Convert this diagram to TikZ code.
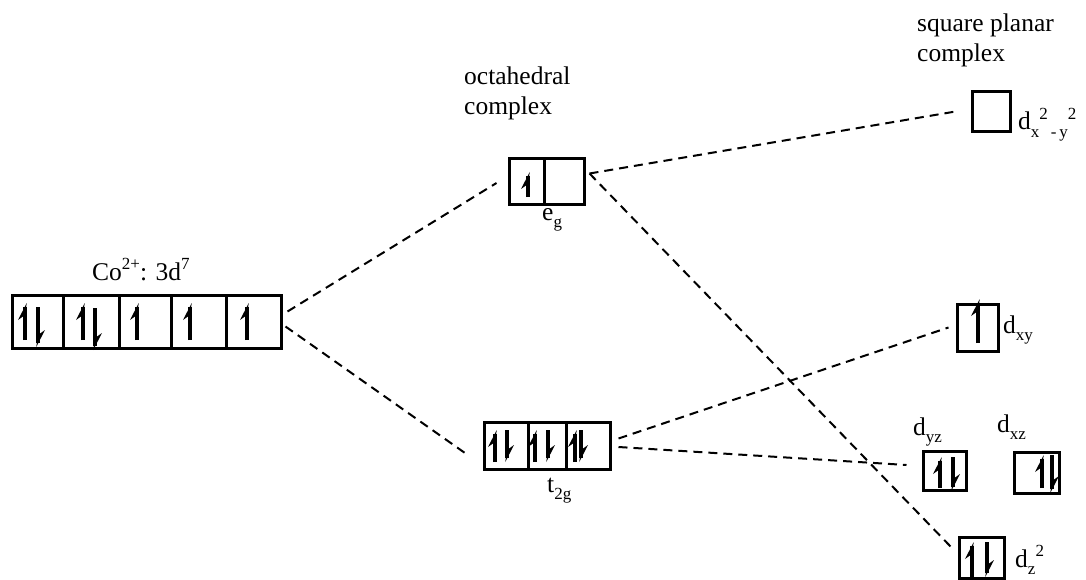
\documentclass[tikz,border=0pt]{standalone}
\usepackage{fontspec}
\setmainfont{Liberation Serif}
\usetikzlibrary{calc,positioning}

\tikzstyle{orb} = [draw, line width=3pt, inner sep=0pt]
\tikzstyle{lbl} = [inner sep=0pt, anchor=base west, font=\fontsize{25.5}{30}\selectfont]
\tikzstyle{split} = [dashed, line width=2pt, dash pattern=on 9pt off 6pt]
\tikzstyle{spin} = [line width=3.5pt]

% indices in the labels
\newcommand{\spt}[1]{\raisebox{0.42em}{\fontsize{17}{17}\selectfont #1}}
\newcommand{\sbt}[1]{\raisebox{-0.3em}{\fontsize{17}{17}\selectfont #1}}

% half-headed arrows for the electrons: x, top, bottom
\newcommand{\eup}[3]{\draw[spin] (#1,#3) -- (#1,#2+4);
  \fill (#1+1.75,#2) -- (#1-7,#2+17) -- (#1,#2+12) -- cycle;}
\newcommand{\edn}[3]{\draw[spin] (#1,#2) -- (#1,#3-4);
  \fill (#1-1.75,#3) -- (#1+7,#3-17) -- (#1,#3-12) -- cycle;}

\begin{document}
\begin{tikzpicture}[x=1pt,y=-1pt]
\useasboundingbox (0,0) rectangle (1086,580);

% free ion
\node[orb, minimum width=51pt, minimum height=53pt] (co1) at (37.5,321.5) {};
\node[orb, minimum width=56pt, minimum height=53pt] (co2) at (91,321.5) {};
\node[orb, minimum width=52pt, minimum height=53pt] (co3) at (145,321.5) {};
\node[orb, minimum width=55pt, minimum height=53pt] (co4) at (198.5,321.5) {};
\node[orb, minimum width=55pt, minimum height=53pt] (co5) at (253.5,321.5) {};
\node[lbl] (colbl) at (92,280) {Co\spt{2+}: 3d\spt{7}};
\eup{25}{303}{340} \edn{38}{307}{347}
\eup{83}{303}{340} \edn{95}{308}{350}
\eup{137}{303}{340}
\eup{190}{303}{340}
\eup{247}{303}{340}

% octahedral field
\node[lbl, align=left] (oct) at (464,115) {octahedral\\complex};
\node[orb, minimum width=35pt, minimum height=45pt] (eg1) at (526.5,181.5) {};
\node[orb, minimum width=40pt, minimum height=45pt] (eg2) at (564,181.5) {};
\node[lbl] (eglbl) at (542,220) {e\sbt{g}};
\eup{528}{172}{197}

\node[orb, minimum width=44pt, minimum height=47pt] (t1) at (506,445.5) {};
\node[orb, minimum width=38pt, minimum height=47pt] (t2) at (547,445.5) {};
\node[orb, minimum width=44pt, minimum height=47pt] (t3) at (588,445.5) {};
\node[lbl] (t2glbl) at (547,492) {t\sbt{2g}};
\eup{495}{430}{462} \edn{507}{430}{462}
\eup{535}{430}{462} \edn{548}{430}{462}
\eup{575}{430}{462} \edn{581}{430}{462}

% square planar field
\node[lbl, align=left] (sqp) at (917,62) {square planar\\complex};
\node[orb, minimum width=38pt, minimum height=40pt] (dx2) at (991,112) {};
\node[lbl] at (1018,130) {d\sbt{x}\spt{2}\sbt{\,-\,y}\spt{2}};

\node[orb, minimum width=41pt, minimum height=47pt] (dxy) at (977.5,327.5) {};
\node[lbl] at (1003,333) {d\sbt{xy}};
\eup{978}{299}{343}

\node[orb, minimum width=43pt, minimum height=39pt] (dyz) at (944.5,470.5) {};
\node[lbl] at (913,435) {d\sbt{yz}};
\eup{940}{457}{488} \edn{953}{457}{491}

\node[orb, minimum width=45pt, minimum height=41pt] (dxz) at (1036.5,472.5) {};
\node[lbl] at (997,432) {d\sbt{xz}};
\eup{1042}{455}{488} \edn{1052}{455}{493}

\node[orb, minimum width=45pt, minimum height=41pt] (dz2) at (981.5,557.5) {};
\node[lbl] at (1015,567) {d\sbt{z}\spt{2}};
\eup{972}{542}{577} \edn{987}{542}{577}

% splitting lines
\draw[split] ($(co5.east)+(5,-10)$) -- ($(eg1.west)+(-11,1.5)$);
\draw[split] ($(co5.east)+(3,5)$) -- ($(t1.west)+(-14,10)$);
\draw[split] ($(eg2.east)+(4,-8)$) -- ($(dx2.west)+(-12,-1)$);
\draw[split] ($(eg2.east)+(4,-8)$) -- ($(dz2.west)+(-6,-10)$);
\draw[split] ($(t3.east)+(7,-7)$) -- ($(dxy.west)+(-7,0)$);
\draw[split] ($(t3.east)+(7,1.5)$) -- ($(dyz.west)+(-15,-5.5)$);
\end{tikzpicture}
\end{document}
